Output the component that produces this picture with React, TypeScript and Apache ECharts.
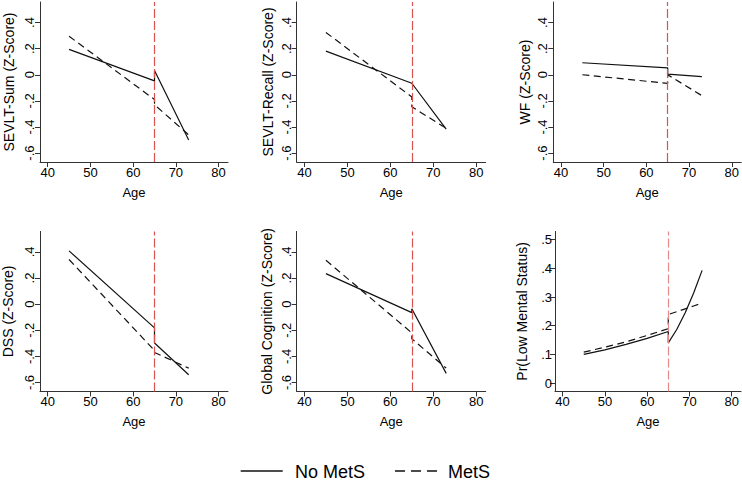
import React, { useEffect, useRef } from "react";
import * as echarts from "echarts";

const FONT = "'Liberation Sans', Arial, Helvetica, sans-serif";

// Tick labels
const ageTicks = [40, 50, 60, 70, 80];
const zTicks = [-0.6, -0.4, -0.2, 0, 0.2, 0.4];
const prTicks = [0, 0.1, 0.2, 0.3, 0.4, 0.5];

// Ages (piecewise: before and after the age-65 break)
const segAges = [45, 65, 65, 73];
const prAges = [45, 50, 55, 60, 65, 65, 67, 69, 71, 73];

// Panel values
const sevltSumNo = [0.194, -0.047, 0.033, -0.5];
const sevltSumMets = [0.295, -0.19, -0.23, -0.46];
const sevltRecallNo = [0.181, -0.065, -0.07, -0.417];
const sevltRecallMets = [0.324, -0.17, -0.245, -0.41];
const wfNo = [0.092, 0.053, 0.005, -0.015];
const wfMets = [0.0, -0.066, 0.0, -0.16];
const dssNo = [0.408, -0.182, -0.297, -0.541];
const dssMets = [0.342, -0.355, -0.37, -0.49];
const globalNo = [0.234, -0.065, -0.035, -0.53];
const globalMets = [0.336, -0.22, -0.265, -0.49];
const prNo = [0.1, 0.116, 0.135, 0.156, 0.18, 0.14, 0.187, 0.245, 0.314, 0.393];
const prMets = [0.108, 0.125, 0.144, 0.166, 0.19, 0.239, 0.249, 0.259, 0.269, 0.279];

const yTitles = [
  "SEVLT-Sum (Z-Score)",
  "SEVLT-Recall (Z-Score)",
  "WF (Z-Score)",
  "DSS (Z-Score)",
  "Global Cognition (Z-Score)",
  "Pr(Low Mental Status)",
];
const legendNames = ["No MetS", "MetS"];
const breakAge = 65;

const fmt = (v: number) => {
  if (Math.abs(v) < 1e-9) return "0";
  return v.toFixed(1).replace("0.", ".");
};

export default function App() {
  const ref = useRef<HTMLDivElement>(null);
  useEffect(() => {
    if (!ref.current) return;
    const chart = echarts.init(ref.current, null, { renderer: "svg" });

    const grids = [
      { left: 40, top: 2, width: 188, height: 160 },
      { left: 296.7, top: 2, width: 189, height: 160 },
      { left: 553.3, top: 2, width: 188, height: 160 },
      { left: 40, top: 231.4, width: 188, height: 160 },
      { left: 296.7, top: 231.4, width: 189, height: 160 },
      { left: 555, top: 231.4, width: 186, height: 160 },
    ];
    const nameGaps = [24, 22, 21, 25, 23, 26];

    const panels = [
      { ages: segAges, no: sevltSumNo, mets: sevltSumMets },
      { ages: segAges, no: sevltRecallNo, mets: sevltRecallMets },
      { ages: segAges, no: wfNo, mets: wfMets },
      { ages: segAges, no: dssNo, mets: dssMets },
      { ages: segAges, no: globalNo, mets: globalMets },
      { ages: prAges, no: prNo, mets: prMets },
    ];

    const axisLineStyle = { color: "#333", width: 1 };

    const xAxis = grids.map((_, i) => ({
      type: "value",
      gridIndex: i,
      min: 38.2,
      max: 82.2,
      name: "Age",
      nameLocation: "middle",
      nameGap: 24,
      nameTextStyle: { fontSize: 13, color: "#000", fontFamily: FONT },
      axisLine: { show: true, onZero: false, lineStyle: axisLineStyle },
      axisTick: { show: true, length: 5, customValues: ageTicks, lineStyle: axisLineStyle },
      axisLabel: { customValues: ageTicks, margin: 4, fontSize: 13, color: "#000", fontFamily: FONT },
      splitLine: { show: false },
    }));

    const yAxis = grids.map((_, i) => {
      const isPr = i === 5;
      const ticks = isPr ? prTicks : zTicks;
      return {
        type: "value",
        gridIndex: i,
        min: isPr ? -0.029 : -0.668,
        max: isPr ? 0.529 : 0.557,
        name: yTitles[i],
        nameLocation: "middle",
        nameGap: nameGaps[i],
        nameTextStyle: { fontSize: 14, color: "#000", fontFamily: FONT },
        axisLine: { show: true, onZero: false, lineStyle: axisLineStyle },
        axisTick: { show: true, length: 5, customValues: ticks, lineStyle: axisLineStyle },
        axisLabel: {
          customValues: ticks,
          rotate: isPr ? 0 : 90,
          margin: isPr ? 3 : 4,
          fontSize: 13,
          color: "#000",
          fontFamily: FONT,
          formatter: (v: number) => fmt(v),
        },
        splitLine: { show: false },
      };
    });

    const series: any[] = [];
    panels.forEach((p, i) => {
      series.push({
        type: "line",
        name: legendNames[0],
        xAxisIndex: i,
        yAxisIndex: i,
        data: p.ages.map((a, k) => [a, p.no[k]]),
        showSymbol: false,
        symbol: "none",
        lineStyle: { color: "#111", width: 1.2, type: "solid" },
        z: 3,
        markLine: {
          silent: true,
          symbol: ["none", "none"],
          label: { show: false },
          lineStyle: { color: i === 5 ? "#e58a8a" : "#d9534f", type: [9, 3], width: 1.2 },
          data: [{ xAxis: breakAge }],
        },
      });
      series.push({
        type: "line",
        name: legendNames[1],
        xAxisIndex: i,
        yAxisIndex: i,
        data: p.ages.map((a, k) => [a, p.mets[k]]),
        showSymbol: false,
        symbol: "none",
        lineStyle: { color: "#111", width: 1.2, type: [7, 4.5] },
        z: 3,
      });
    });

    const legendY = 471;
    chart.setOption({
      animation: false,
      backgroundColor: "#fff",
      grid: grids,
      xAxis,
      yAxis,
      series,
      graphic: [
        {
          type: "line",
          shape: { x1: 240.7, y1: legendY, x2: 282.7, y2: legendY },
          style: { stroke: "#111", lineWidth: 1.3 },
        },
        {
          type: "text",
          x: 295,
          y: legendY + 1,
          style: { text: legendNames[0], fontSize: 18, fontFamily: FONT, fill: "#000", verticalAlign: "middle" },
        },
        {
          type: "line",
          shape: { x1: 395, y1: legendY, x2: 437.3, y2: legendY },
          style: { stroke: "#111", lineWidth: 1.3, lineDash: [10, 6] },
        },
        {
          type: "text",
          x: 448,
          y: legendY + 1,
          style: { text: legendNames[1], fontSize: 18, fontFamily: FONT, fill: "#000", verticalAlign: "middle" },
        },
      ],
    });
    return () => chart.dispose();
  }, []);
  return (
    <div
      ref={ref}
      style={{ position: "fixed", left: 0, top: 0, width: 742, height: 481 }}
    />
  );
}
